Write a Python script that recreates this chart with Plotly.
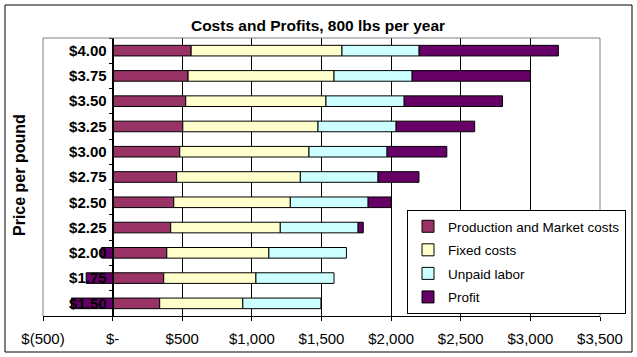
import plotly.graph_objects as go

prices = ["$1.50", "$1.75", "$2.00", "$2.25", "$2.50", "$2.75",
          "$3.00", "$3.25", "$3.50", "$3.75", "$4.00"]
production = [338, 367, 389, 417, 439, 460, 482, 504, 525, 542, 564]
fixed = [597, 662, 733, 787, 837, 888, 928, 971, 1007, 1048, 1083]
unpaid = [561, 561, 557, 559, 559, 558, 561, 561, 562, 561, 554]
profit = [-296, -190, -79, 37, 165, 294, 429, 564, 706, 850, 1000]

x_ticks = [-500, 0, 500, 1000, 1500, 2000, 2500, 3000, 3500]
x_tick_text = ["$(500)", "$-", "$500", "$1,000", "$1,500", "$2,000",
               "$2,500", "$3,000", "$3,500"]

series = [
    ("Production and Market costs", production, "#993366"),
    ("Fixed costs", fixed, "#FFFFCC"),
    ("Unpaid labor", unpaid, "#CCFFFF"),
    ("Profit", profit, "#660066"),
]

FONT = "Arial, Liberation Sans, sans-serif"

fig = go.Figure()
for name, vals, col in series:
    fig.add_trace(go.Bar(
        y=prices, x=vals, name=name, orientation="h",
        legendgroup=name,
        marker=dict(color=col, line=dict(color="black", width=1)),
    ))

W, H = 637, 357
L, R, T, B = 43, 37, 38, 41
pw, ph = W - L - R, H - T - B

def px_x(p):
    return (p - L) / pw

def px_y(p):
    return (H - B - p) / ph

fig.update_layout(
    template="none",
    width=W, height=H,
    margin=dict(l=L, r=R, t=T, b=B, pad=0, autoexpand=False),
    paper_bgcolor="white", plot_bgcolor="white",
    barmode="relative", bargap=0.58,
    font=dict(family=FONT, color="black"),
    title=dict(text="Costs and Profits, 800 lbs per year",
               x=318 / W, xanchor="center", y=1 - 26 / H, yanchor="middle",
               xref="container", yref="container",
               font=dict(size=15.5, weight="bold", family=FONT)),
    xaxis=dict(range=[-500, 3500], tickvals=x_ticks, ticktext=x_tick_text,
               showgrid=True, gridcolor="black", gridwidth=1,
               zeroline=False, showline=True, linecolor="black", linewidth=1,
               ticks="outside", ticklen=4, tickcolor="black",
               automargin=False,
               tickfont=dict(size=15, family=FONT), ticklabelstandoff=5),
    yaxis=dict(type="category", categoryorder="array", categoryarray=prices,
               anchor="free", position=0.125, automargin=False,
               showline=True, linecolor="black", linewidth=1,
               ticks="outside", ticklen=4, tickcolor="black",
               tickson="boundaries", showgrid=False, zeroline=False,
               tickfont=dict(size=15, weight="bold", family=FONT),
               ticklabelstandoff=3),
    legend=dict(x=px_x(407), y=px_y(210), xanchor="left", yanchor="top",
                bgcolor="white", bordercolor="black", borderwidth=1,
                font=dict(size=13.5, family=FONT), traceorder="grouped",
                tracegroupgap=3),
    showlegend=True,
)

# plot-area border (grey) on top, left, right
for x0, y0, x1, y1 in [(0, 1, 1, 1), (0, 0, 0, 1), (1, 0, 1, 1)]:
    fig.add_shape(type="line", xref="paper", yref="paper",
                  x0=x0, y0=y0, x1=x1, y1=y1,
                  line=dict(color="#808080", width=1), layer="above")

# chart outer border
fig.add_shape(type="rect", xref="paper", yref="paper",
              x0=px_x(5), y0=px_y(352), x1=px_x(632), y1=px_y(5),
              line=dict(color="black", width=1), layer="above")

fig.add_annotation(text="Price per pound", textangle=-90,
                   xref="paper", yref="paper", x=px_x(19), y=px_y(175),
                   xanchor="center", yanchor="middle", showarrow=False,
                   font=dict(size=16, weight="bold", family=FONT))

fig.write_html("out.html", config={"displayModeBar": False},
               post_script="document.body.style.margin='0';")
